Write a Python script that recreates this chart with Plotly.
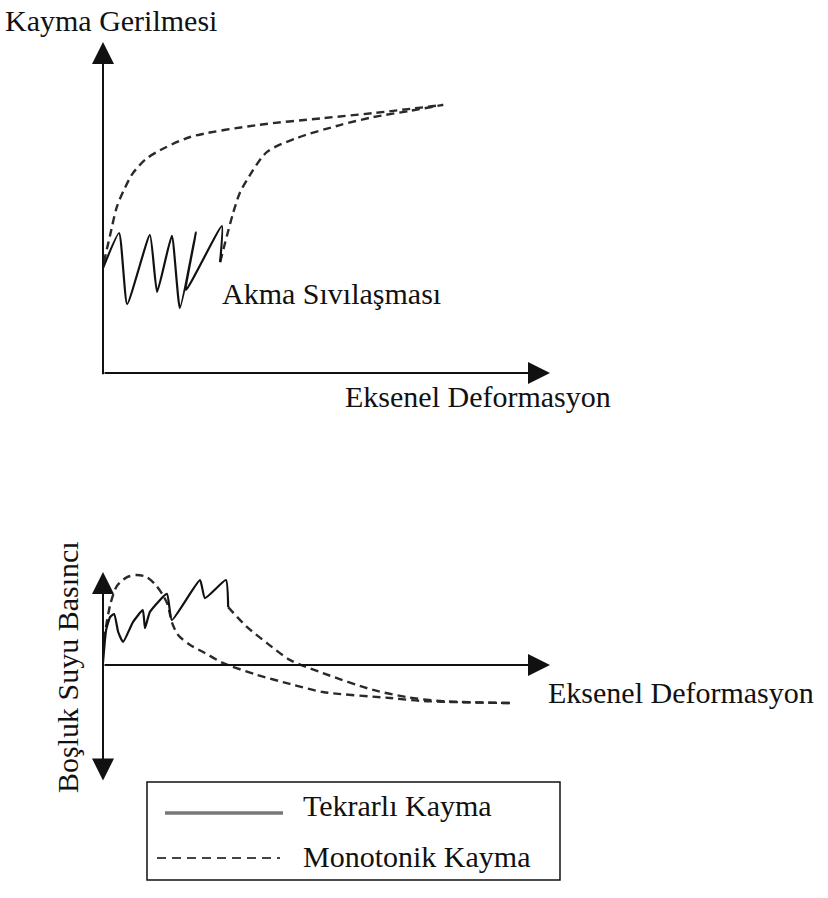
import plotly.graph_objects as go

W, H = 828, 898
FONT = dict(family="Liberation Serif, Times New Roman, serif", size=30, color="#111111")

# ---- upper panel: shear stress vs axial deformation ----
top_cyclic_x = [0.00, 0.36, 0.54, 1.05, 1.21, 1.54, 1.72, 2.08, 1.86, 2.66, 2.62]
top_cyclic_y = [3.17, 4.23, 2.08, 4.17, 2.45, 4.14, 1.96, 4.26, 2.51, 4.44, 3.35]

top_mono_x = [0.02, 0.16, 0.31, 0.49, 0.67, 0.94, 1.21, 1.95, 3.45, 4.92, 6.04, 7.61]
top_mono_y = [3.35, 4.17, 5.02, 5.59, 6.04, 6.44, 6.68, 7.13, 7.49, 7.70, 7.85, 8.10]

top_post_x = [2.62, 2.91, 3.06, 3.22, 3.67, 4.34, 5.30, 6.04, 6.87, 7.61]
top_post_y = [3.35, 4.83, 5.44, 5.83, 6.68, 7.10, 7.49, 7.73, 7.92, 8.10]

# ---- lower panel: pore water pressure vs axial deformation ----
bot_cyclic_x = [0.00, 0.07, 0.16, 0.25, 0.34, 0.45, 0.67, 0.89, 0.94, 1.05, 1.43, 1.54, 2.17, 2.28, 2.75, 2.80]
bot_cyclic_y = [0.07, 1.17, 1.60, 1.70, 1.10, 0.77, 1.43, 1.83, 1.23, 1.77, 2.37, 1.50, 2.83, 2.23, 2.83, 1.93]

bot_mono_x = [0.02, 0.16, 0.31, 0.54, 0.76, 0.98, 1.16, 1.34, 1.45, 1.54, 1.68, 1.95, 2.28, 2.68, 3.45, 4.18, 4.92, 6.42, 7.16, 9.17]
bot_mono_y = [0.83, 2.00, 2.63, 2.93, 3.00, 2.93, 2.70, 2.33, 2.00, 1.43, 1.00, 0.67, 0.40, 0.07, -0.33, -0.63, -0.90, -1.10, -1.20, -1.27]

bot_post_x = [2.80, 3.22, 3.67, 4.18, 4.92, 6.04, 6.80, 7.54, 9.17]
bot_post_y = [1.93, 1.27, 0.73, 0.17, -0.27, -0.83, -1.07, -1.20, -1.27]

SOLID = dict(color="#111111", width=2.2, shape="spline", smoothing=0.45)
DASHED = dict(color="#2a2a2a", width=2.4, dash="8px,5px", shape="spline", smoothing=0.8)

fig = go.Figure()


def add_line(x, y, line, xa, ya):
    fig.add_trace(go.Scatter(x=x, y=y, mode="lines", line=line, xaxis=xa, yaxis=ya,
                             showlegend=False, hoverinfo="skip"))


add_line(top_mono_x, top_mono_y, DASHED, "x", "y")
add_line(top_post_x, top_post_y, DASHED, "x", "y")
add_line(top_cyclic_x, top_cyclic_y, SOLID, "x", "y")

add_line(bot_mono_x, bot_mono_y, DASHED, "x2", "y2")
add_line(bot_post_x, bot_post_y, DASHED, "x2", "y2")
add_line(bot_cyclic_x, bot_cyclic_y, SOLID, "x2", "y2")


def px(xp):
    return xp / W


def py(yp):
    return 1 - yp / H


hidden = dict(visible=False, showgrid=False, zeroline=False, fixedrange=True)

ARROW = dict(showarrow=True, arrowhead=2, arrowsize=2.2, arrowwidth=2, arrowcolor="#111111",
             standoff=0, startstandoff=0, text="")

annotations = [
    # upper axes
    dict(x=0, y=10, ax=0, ay=-0.08, xref="x", yref="y", axref="x", ayref="y", **ARROW),
    dict(x=10, y=0, ax=0, ay=0, xref="x", yref="y", axref="x", ayref="y", **ARROW),
    # lower axes
    dict(x=0, y=3.1, ax=0, ay=-3.9, xref="x2", yref="y2", axref="x2", ayref="y2",
         arrowside="end+start", **ARROW),
    dict(x=10, y=0, ax=0, ay=0, xref="x2", yref="y2", axref="x2", ayref="y2", **ARROW),
]

labels = [
    ("Kayma Gerilmesi", 3, 20, "left", 0),
    ("Akma Sıvılaşması", 220, 293, "left", 0),
    ("Eksenel Deformasyon", 343, 397, "left", 0),
    ("Eksenel Deformasyon", 546, 692, "left", 0),
    ("Boşluk Suyu Basıncı", 67, 667, "center", -90),
    ("Tekrarlı Kayma", 301, 805, "left", 0),
    ("Monotonik Kayma", 301, 856, "left", 0),
]
for text, xp, yp, anchor, ang in labels:
    annotations.append(dict(text=text, x=px(xp), y=py(yp), xref="paper", yref="paper",
                            xanchor=anchor, yanchor="middle", showarrow=False,
                            textangle=ang, font=FONT))

shapes = [
    dict(type="rect", xref="paper", yref="paper", x0=px(147), x1=px(560), y0=py(880), y1=py(782),
         line=dict(color="#111111", width=1.5)),
    dict(type="line", xref="paper", yref="paper", x0=px(165), x1=px(283), y0=py(813), y1=py(813),
         line=dict(color="#777777", width=3.5)),
    dict(type="line", xref="paper", yref="paper", x0=px(157), x1=px(280), y0=py(858), y1=py(858),
         line=dict(color="#444444", width=2.2, dash="9px,6px")),
]

fig.update_layout(
    width=W, height=H, autosize=False,
    margin=dict(l=0, r=0, t=0, b=0, pad=0),
    paper_bgcolor="white", plot_bgcolor="rgba(0,0,0,0)",
    xaxis=dict(domain=[px(103), px(550)], range=[0, 10], anchor="y", **hidden),
    yaxis=dict(domain=[py(373), py(42)], range=[0, 10], anchor="x", **hidden),
    xaxis2=dict(domain=[px(103), px(550)], range=[0, 10], anchor="y2", **hidden),
    yaxis2=dict(domain=[py(782), py(572)], range=[-3.9, 3.1], anchor="x2", **hidden),
    annotations=annotations,
    shapes=shapes,
    showlegend=False,
)

fig.write_html("out.html", config=dict(displayModeBar=False))
